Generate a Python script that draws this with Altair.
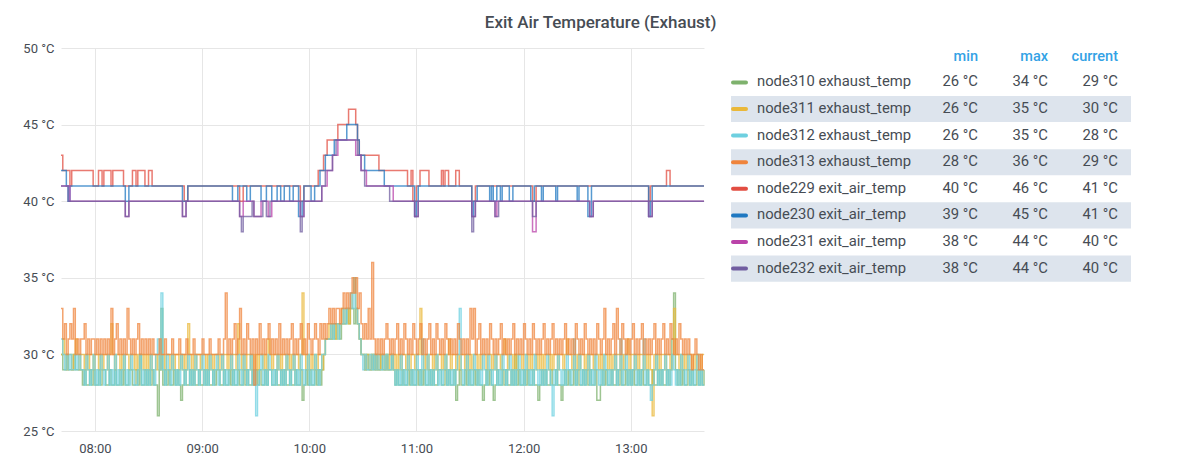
import altair as alt
import pandas as pd

START = pd.Timestamp("2024-01-01 07:41")

series_names = [
    "node310 exhaust_temp", "node311 exhaust_temp", "node312 exhaust_temp", "node313 exhaust_temp",
    "node229 exit_air_temp", "node230 exit_air_temp", "node231 exit_air_temp", "node232 exit_air_temp",
]
series_colors = ["#7EB26D", "#EAB839", "#6ED0E0", "#EF843C", "#E24D42", "#1F78C1", "#BA43A9", "#705DA0"]

legend_min = [26, 26, 26, 28, 40, 39, 38, 38]
legend_max = [34, 35, 35, 36, 46, 45, 44, 44]
legend_current = [29, 30, 28, 29, 41, 41, 40, 40]

# one value per minute from 07:41 (index 0) to 13:41 (index 360)
node310 = [
    30,29,29,30,29,29,29,30,29,29, 29,29,28,29,28,28,29,28,29,28, 28,29,28,29,29,28,28,29,28,28,
    29,28,28,29,28,29,28,28,29,29, 28,28,29,28,30,28,28,29,28,29, 28,29,28,28,26,29,33,28,29,28,
    29,28,28,29,28,29,28,27,28,29, 28,28,29,28,29,28,28,29,28,28, 29,28,29,28,28,29,28,29,29,28,
    28,29,28,28,29,28,29,28,28,29, 28,28,29,28,29,28,28,29,28,29, 28,29,28,28,29,28,29,29,28,28,
    29,28,28,29,28,29,28,28,29,28, 28,29,28,28,29,27,28,29,28,29, 28,28,29,28,29,28,29,30,31,31,
    31,31,32,31,32,32,31,32,32,32, 33,32,33,33,32,33,32,31,30,30, 29,30,29,29,30,29,30,29,29,30,
    29,29,30,29,29,30,29,28,29,28, 28,29,28,28,29,28,29,28,28,29, 28,29,28,29,28,28,29,28,29,28,
    28,29,29,28,28,29,28,29,28,28, 29,27,28,29,28,28,29,28,29,28, 28,29,28,29,28,28,27,28,29,28,
    29,28,27,28,29,28,28,29,28,29, 28,28,29,28,30,28,29,28,28,29, 28,29,28,28,29,28,28,27,28,29,
    28,29,28,28,29,28,28,29,28,28, 27,28,29,28,29,28,28,29,28,29, 28,28,29,28,29,28,29,28,28,29,
    27,27,28,29,28,29,28,28,29,28, 28,29,28,29,28,28,29,28,29,28, 29,28,28,29,28,29,28,28,29,28,
    28,29,28,28,29,28,29,28,28,29, 28,29,31,34,29,28,29,28,29,28, 28,29,28,29,28,28,29,28,29,28,
    29,
]
node311 = [
    30,31,30,29,30,30,29,30,31,30, 29,30,30,29,30,29,30,30,29,30, 30,29,30,29,30,30,29,30,32,30,
    29,30,30,29,30,29,30,30,29,30, 30,29,30,29,30,30,29,30,29,30, 29,30,30,29,30,29,30,30,29,30,
    30,29,30,29,30,30,29,30,29,30, 29,32,30,29,30,29,30,30,29,30, 30,29,30,29,30,29,30,30,29,30,
    29,30,30,29,30,29,30,30,29,32, 30,29,30,29,30,30,29,30,29,30, 29,30,30,29,30,29,31,30,29,30,
    30,29,30,29,30,30,29,30,29,30, 29,30,30,29,30,34,30,29,30,29, 30,29,30,29,30,30,29,30,31,31,
    32,31,32,32,31,32,32,33,32,33, 33,32,33,34,35,33,32,31,30,30, 29,30,30,29,30,30,29,30,29,30,
    30,29,30,29,30,30,29,30,29,30, 29,30,30,29,30,29,30,30,29,30, 30,33,30,29,30,29,30,30,29,30,
    29,30,30,29,30,29,30,31,29,30, 30,29,30,29,30,30,29,30,29,30, 29,30,30,29,30,29,30,30,29,30,
    30,29,30,29,30,30,29,30,31,30, 29,30,30,29,30,29,30,30,29,30, 30,29,30,29,30,30,29,30,29,30,
    29,30,30,29,30,29,30,30,29,30, 30,29,30,31,30,30,29,30,29,30, 29,30,30,29,30,29,30,30,29,30,
    30,29,30,29,30,30,29,30,29,30, 29,30,30,29,30,29,30,31,29,30, 30,29,30,29,30,30,29,30,29,30,
    29,26,30,29,30,29,30,30,29,30, 30,29,30,33,30,30,29,30,29,30, 29,30,30,29,30,29,30,30,29,30,
    30,
]
node312 = [
    31,30,29,30,29,30,29,29,30,29, 30,29,29,28,30,29,28,29,30,28, 29,28,30,29,28,29,30,28,29,28,
    30,28,29,28,29,30,28,29,28,30, 29,28,28,29,30,28,29,28,29,28, 30,29,28,30,31,29,34,29,28,30,
    29,28,30,29,28,29,28,30,29,28, 29,30,28,29,28,30,29,28,29,30, 28,29,28,30,29,28,29,30,28,29,
    30,28,29,28,29,30,28,29,28,30, 29,28,30,29,28,29,30,28,29,26, 28,29,30,28,29,28,30,29,28,29,
    28,30,29,28,29,28,30,29,28,29, 30,28,29,28,30,29,28,29,30,28, 29,28,30,29,28,29,30,30,31,31,
    31,32,31,32,32,31,32,32,33,32, 33,33,34,33,35,33,32,31,30,29, 30,29,29,30,29,30,29,30,29,29,
    30,29,30,29,29,30,29,28,29,28, 30,28,29,28,30,29,28,29,28,30, 29,28,31,29,28,30,28,29,28,29,
    30,28,29,28,29,30,28,29,28,29, 28,29,30,33,29,28,29,30,28,29, 28,30,29,28,29,28,30,29,28,30,
    29,28,29,30,28,29,28,30,29,28, 29,30,28,29,28,29,30,28,29,28, 30,29,28,29,28,30,29,28,29,28,
    29,28,30,29,28,26,29,28,30,29, 28,29,28,30,29,28,29,31,28,29, 30,28,29,28,29,30,28,29,28,30,
    29,28,29,28,30,29,28,29,28,29, 30,28,29,31,28,29,30,28,29,28, 29,30,28,29,28,29,31,28,29,28,
    27,28,29,30,28,29,28,29,30,28, 29,28,30,29,28,29,28,30,29,28, 29,30,28,29,28,29,30,28,29,28,
    28,
]
node313 = [
    33,31,32,30,31,32,31,33,30,31, 30,31,31,32,30,31,30,31,31,30, 31,30,31,30,31,30,31,30,33,30,
    31,32,30,31,30,31,30,33,31,30, 31,30,31,32,30,31,30,31,30,31, 30,31,30,30,30,31,30,30,31,30,
    30,30,31,30,30,30,31,30,30,30, 31,30,30,30,31,30,30,30,30,31, 30,30,30,31,30,30,30,30,31,30,
    30,31,34,30,31,30,31,32,30,31, 33,30,31,30,32,31,30,31,28,31, 30,32,30,31,30,31,32,30,31,30,
    31,30,32,30,31,30,31,30,31,32, 30,31,30,31,32,30,31,30,32,31, 30,31,32,31,30,32,31,32,31,32,
    33,32,33,32,33,33,32,33,34,33, 34,33,34,35,34,35,33,34,32,31, 32,31,33,31,36,31,30,31,30,31,
    30,31,32,31,30,31,30,31,32,30, 31,30,32,31,30,31,30,32,31,30, 31,32,30,31,30,31,32,30,31,30,
    32,31,30,31,30,32,31,30,31,30, 31,30,32,31,30,31,30,31,30,33, 31,33,30,31,32,30,31,30,31,30,
    32,31,30,31,30,31,32,30,31,30, 31,30,31,32,30,31,30,31,30,32, 31,30,31,30,32,31,30,31,30,31,
    32,30,31,30,31,32,30,31,30,31, 30,31,32,30,31,30,31,30,32,31, 30,31,30,32,31,30,31,30,31,30,
    32,31,30,31,33,30,31,30,31,32, 30,33,31,30,32,31,30,31,30,31, 32,30,31,30,31,32,30,31,30,31,
    30,31,32,30,31,30,31,32,30,31, 30,32,31,30,31,30,32,31,30,31, 30,31,30,29,30,31,30,29,30,29,
    29,
]

# step series given as (minute since 07:41, value) change points
node229 = [(0,43),(1,42),(5,41),(6,42),(18,41),(21,42),(23,41),(24,42),(28,41),(29,42),(35,41),
           (40,42),(42,41),(43,42),(47,41),(49,42),(51,41),(69,40),(71,41),(100,40),(102,41),
           (134,40),(136,41),(144,42),(147,43),(149,44),(155,45),(161,46),(165,45),(166,44),
           (167,43),(178,42),(194,41),(196,42),(197,40),(199,41),(201,42),(206,41),(213,42),
           (214,41),(215,42),(217,41),(221,42),(223,41),(230,40),(232,41),(264,40),(266,41),
           (329,40),(330,41),(339,42),(341,41),(360,41)]
node230 = [(0,42),(3,41),(4,40),(5,41),(36,40),(38,41),(68,40),(71,41),(96,40),(99,41),(104,40),
           (106,41),(112,40),(115,41),(118,40),(121,41),(123,40),(125,41),(128,40),(130,41),
           (133,39),(135,40),(136,41),(140,40),(142,41),(145,42),(148,43),(153,44),(160,45),
           (166,44),(167,43),(170,42),(181,41),(198,39),(199,40),(200,41),(230,39),(231,40),
           (233,41),(240,40),(241,41),(242,40),(244,41),(246,40),(247,41),(251,40),(253,41),
           (263,40),(265,41),(269,40),(270,41),(277,40),(278,41),(289,40),(290,41),(295,39),
           (297,41),(329,39),(330,40),(331,41),(360,41)]
node231 = [(0,41),(5,40),(36,39),(38,40),(68,39),(70,40),(100,39),(102,40),(108,39),(112,40),
           (116,39),(118,40),(134,39),(136,40),(146,41),(149,42),(152,43),(155,44),(165,43),
           (168,42),(171,41),(186,40),(198,39),(200,40),(230,39),(232,40),(243,39),(244,40),
           (264,38),(266,40),(296,39),(298,40),(329,39),(331,40),(360,40)]
node232 = [(0,41),(4,40),(36,39),(38,40),(68,39),(70,40),(100,39),(101,38),(102,39),(107,40),
           (108,39),(113,40),(115,39),(117,40),(134,38),(135,39),(136,40),(146,41),(148,42),
           (152,43),(154,44),(166,43),(168,42),(170,41),(184,40),(198,39),(200,40),(230,38),
           (231,39),(232,40),(243,39),(245,40),(264,39),(266,40),(296,39),(298,40),(329,39),
           (331,40),(360,40)]

per_minute = [node310, node311, node312, node313]
change_pts = [node229, node230, node231, node232]

def stamp(m):
    return (START + pd.Timedelta(minutes=m)).strftime("%Y-%m-%dT%H:%M:%S")

frames = []
for vals in per_minute:
    frames.append(pd.DataFrame({"time": [stamp(i) for i in range(len(vals))], "value": vals}))
for pts in change_pts:
    frames.append(pd.DataFrame({"time": [stamp(m) for m, _ in pts], "value": [v for _, v in pts]}))

FONT = "Roboto"
TEXT = "#464c54"
PLOT_W, PLOT_H = 643, 383

x_enc = alt.X(
    "time:T",
    scale=alt.Scale(domain=[alt.DateTime(year=2024, month=1, date=1, hours=7, minutes=41),
                            alt.DateTime(year=2024, month=1, date=1, hours=13, minutes=41)],
                    nice=False),
    axis=alt.Axis(format="%H:%M", tickCount=6, title=None,
                  domain=False, ticks=False, labelPadding=11, labelFont=FONT, labelFontSize=13,
                  labelColor=TEXT, gridColor="#e6e6e6"),
)
y_enc = alt.Y(
    "value:Q",
    scale=alt.Scale(domain=[25, 50], nice=False, zero=False),
    axis=alt.Axis(values=[25, 30, 35, 40, 45, 50], labelExpr="datum.value + ' °C'", title=None,
                  domain=False, ticks=False, labelPadding=7, labelFont=FONT, labelFontSize=13,
                  labelColor=TEXT, gridColor="#e6e6e6"),
)

line_layers = []
for df_s, col in zip(frames, series_colors):
    line_layers.append(
        alt.Chart(df_s).mark_line(interpolate="step-after", color=col, strokeWidth=1.5, opacity=0.75)
        .encode(x=x_enc, y=y_enc)
    )
lines = alt.layer(*line_layers)

# legend table, placed to the right of the plot area
leg = pd.DataFrame({
    "row": list(range(8)),
    "name": series_names,
    "min": [f"{v} °C" for v in legend_min],
    "max": [f"{v} °C" for v in legend_max],
    "current": [f"{v} °C" for v in legend_current],
})
leg["lo"] = leg["row"] - 0.49
leg["hi"] = leg["row"] + 0.49

L0 = PLOT_W + 16
y_leg = alt.Scale(domain=[-1.293, 13.105], range=[0, PLOT_H])
base_leg = alt.Chart(leg)
bg = base_leg.transform_filter("datum.row % 2 == 1").mark_rect(color="#dde4ed").encode(
    x=alt.value(L0 + 11), x2=alt.value(L0 + 411),
    y=alt.Y("lo:Q", scale=y_leg, axis=None), y2="hi:Q",
)
sw = base_leg.mark_rule(strokeWidth=4, strokeCap="round").encode(
    x=alt.value(L0 + 13), x2=alt.value(L0 + 26),
    y=alt.Y("row:Q", scale=y_leg, axis=None),
    color=alt.Color("name:N", scale=alt.Scale(domain=series_names, range=series_colors), legend=None),
)
txt_kw = dict(font=FONT, fontSize=14.8, color=TEXT, baseline="middle")
nm = base_leg.mark_text(align="left", **txt_kw).encode(
    x=alt.value(L0 + 37), y=alt.Y("row:Q", scale=y_leg, axis=None), text="name:N")
mn = base_leg.mark_text(align="right", **txt_kw).encode(
    x=alt.value(L0 + 258), y=alt.Y("row:Q", scale=y_leg, axis=None), text="min:N")
mx = base_leg.mark_text(align="right", **txt_kw).encode(
    x=alt.value(L0 + 328), y=alt.Y("row:Q", scale=y_leg, axis=None), text="max:N")
cu = base_leg.mark_text(align="right", **txt_kw).encode(
    x=alt.value(L0 + 398), y=alt.Y("row:Q", scale=y_leg, axis=None), text="current:N")

hdr_kw = dict(align="right", baseline="middle", font=FONT, fontSize=14.5, fontWeight=500, color="#33a2e5")
hdr_src = alt.Chart(pd.DataFrame({"k": [0]}))
h1 = hdr_src.mark_text(**hdr_kw).encode(x=alt.value(L0 + 258), y=alt.value(9), text=alt.value("min"))
h2 = hdr_src.mark_text(**hdr_kw).encode(x=alt.value(L0 + 328), y=alt.value(9), text=alt.value("max"))
h3 = hdr_src.mark_text(**hdr_kw).encode(x=alt.value(L0 + 398), y=alt.value(9), text=alt.value("current"))

legend = alt.layer(bg, sw, nm, mn, mx, cu, h1, h2, h3)

chart = alt.layer(lines, legend).resolve_scale(y="independent").properties(
    width=PLOT_W, height=PLOT_H, background="white",
    title=alt.TitleParams("Exit Air Temperature (Exhaust)", anchor="start", font=FONT, fontSize=17,
                          fontWeight=500, color=TEXT, offset=10, dx=462),
    padding={"left": 14, "top": 6, "right": 5, "bottom": 5},
).configure_view(strokeWidth=0)

chart.save("out.html", embed_options={"renderer": "svg", "actions": False})
